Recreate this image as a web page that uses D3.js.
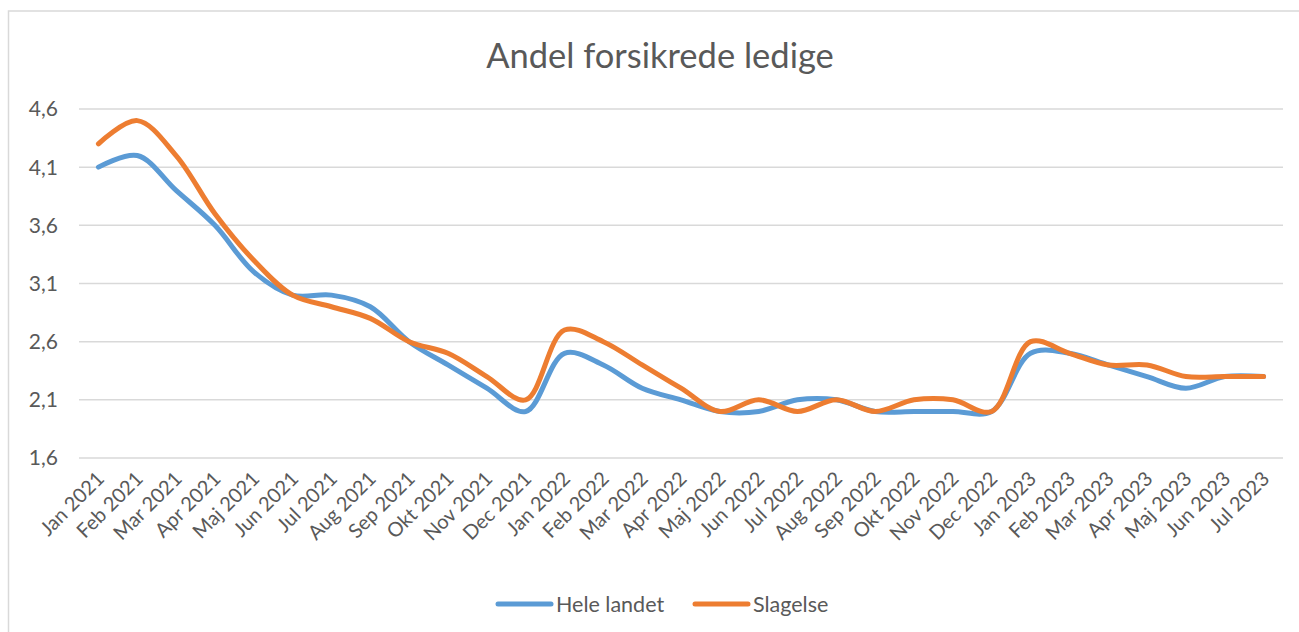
<!DOCTYPE html>
<html>
<head>
<meta charset="utf-8">
<script src="https://cdn.jsdelivr.net/npm/d3@7"></script>
<style>
  body { margin: 0; background: #fff; }
  text { font-family: Lato, "Open Sans", sans-serif; fill: #595959; }
</style>
</head>
<body>
<script>
// Months on the x axis
const months = [
  "Jan 2021", "Feb 2021", "Mar 2021", "Apr 2021", "Maj 2021", "Jun 2021",
  "Jul 2021", "Aug 2021", "Sep 2021", "Okt 2021", "Nov 2021", "Dec 2021",
  "Jan 2022", "Feb 2022", "Mar 2022", "Apr 2022", "Maj 2022", "Jun 2022",
  "Jul 2022", "Aug 2022", "Sep 2022", "Okt 2022", "Nov 2022", "Dec 2022",
  "Jan 2023", "Feb 2023", "Mar 2023", "Apr 2023", "Maj 2023", "Jun 2023",
  "Jul 2023"
];

const heleLandet = [
  4.1, 4.2, 3.9, 3.6, 3.2, 3.0, 3.0, 2.9, 2.6, 2.4, 2.2, 2.0,
  2.5, 2.4, 2.2, 2.1, 2.0, 2.0, 2.1, 2.1, 2.0, 2.0, 2.0, 2.0,
  2.5, 2.5, 2.4, 2.3, 2.2, 2.3, 2.3
];

const slagelse = [
  4.3, 4.5, 4.2, 3.7, 3.3, 3.0, 2.9, 2.8, 2.6, 2.5, 2.3, 2.1,
  2.7, 2.6, 2.4, 2.2, 2.0, 2.1, 2.0, 2.1, 2.0, 2.1, 2.1, 2.0,
  2.6, 2.5, 2.4, 2.4, 2.3, 2.3, 2.3
];

const yTicks = [1.6, 2.1, 2.6, 3.1, 3.6, 4.1, 4.6];

const seriesNames = ["Hele landet", "Slagelse"];
const colors = ["#5B9BD5", "#ED7D31"];

const width = 1299, height = 632;
const margin = { top: 109, right: 16, bottom: 174, left: 79 };

const svg = d3.select("body").append("svg")
  .attr("width", width)
  .attr("height", height);

// chart frame
svg.append("rect")
  .attr("x", 8.5).attr("y", 11)
  .attr("width", 1300).attr("height", 640)
  .attr("fill", "#fff")
  .attr("stroke", "#d9d9d9")
  .attr("stroke-width", 1.5);

svg.append("text")
  .attr("x", 660).attr("y", 68)
  .attr("text-anchor", "middle")
  .style("font-size", "34.5px")
  .text("Andel forsikrede ledige");

const x = d3.scaleBand()
  .domain(months)
  .range([margin.left, width - margin.right]);

const y = d3.scaleLinear()
  .domain([1.6, 4.6])
  .range([height - margin.bottom, margin.top]);

// gridlines
svg.append("g")
  .selectAll("line")
  .data(yTicks)
  .join("line")
  .attr("x1", margin.left)
  .attr("x2", width - margin.right)
  .attr("y1", d => y(d))
  .attr("y2", d => y(d))
  .attr("stroke", "#d9d9d9")
  .attr("stroke-width", 1.5);

// y labels
svg.append("g")
  .selectAll("text")
  .data(yTicks)
  .join("text")
  .attr("x", 58)
  .attr("y", d => y(d))
  .attr("dy", "0.35em")
  .attr("text-anchor", "end")
  .style("font-size", "21px")
  .text(d => d.toFixed(1).replace(".", ","));

// x labels, rotated
svg.append("g")
  .selectAll("text")
  .data(months)
  .join("text")
  .attr("transform", d => `translate(${x(d) + x.bandwidth() / 2 + 7},${y(1.6) + 22}) rotate(-45)`)
  .attr("text-anchor", "end")
  .style("font-size", "20px")
  .text(d => d);

const line = d3.line()
  .x((d, i) => x(months[i]) + x.bandwidth() / 2)
  .y(d => y(d))
  .curve(d3.curveCatmullRom.alpha(0.5));

[heleLandet, slagelse].forEach((values, k) => {
  svg.append("path")
    .datum(values)
    .attr("d", line)
    .attr("fill", "none")
    .attr("stroke", colors[k])
    .attr("stroke-width", 5)
    .attr("stroke-linecap", "round")
    .attr("stroke-linejoin", "round");
});

// legend
const legendItems = [
  { name: seriesNames[0], color: colors[0], x: 498 },
  { name: seriesNames[1], color: colors[1], x: 695 }
];

const legend = svg.append("g");
legend.selectAll("line")
  .data(legendItems)
  .join("line")
  .attr("x1", d => d.x)
  .attr("x2", d => d.x + 53)
  .attr("y1", 604)
  .attr("y2", 604)
  .attr("stroke", d => d.color)
  .attr("stroke-width", 5)
  .attr("stroke-linecap", "round");

legend.selectAll("text")
  .data(legendItems)
  .join("text")
  .attr("x", d => d.x + 58)
  .attr("y", 604)
  .attr("dy", "0.35em")
  .style("font-size", "21.5px")
  .text(d => d.name);
</script>
</body>
</html>
